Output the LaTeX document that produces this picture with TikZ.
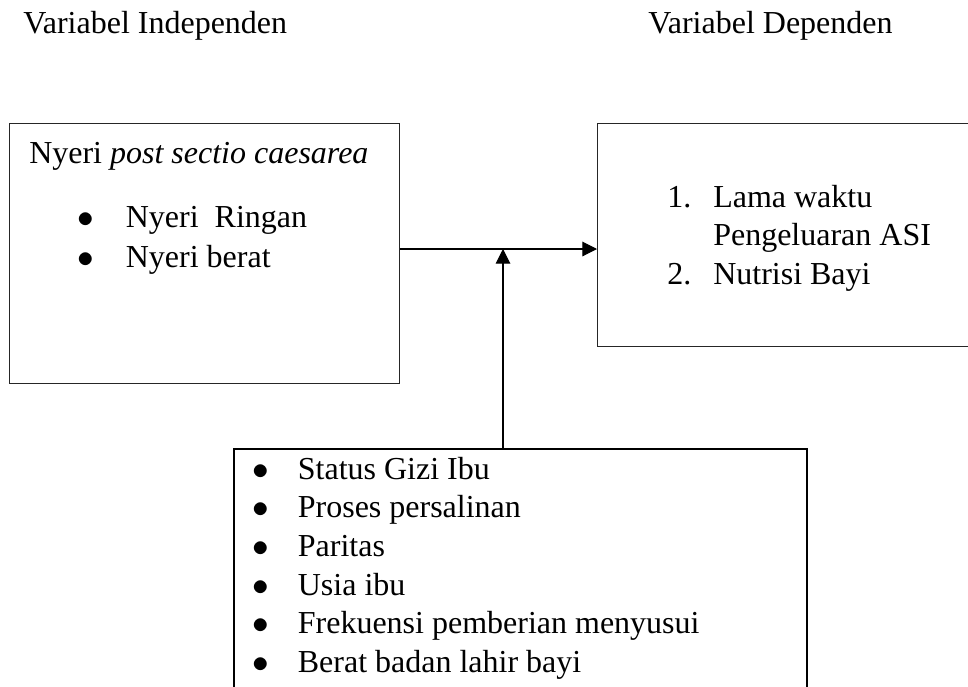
\documentclass[tikz,border=0pt]{standalone}
\usepackage{fontspec}
\setmainfont{Liberation Serif}
\usetikzlibrary{arrows.meta}

\begin{document}
\begin{tikzpicture}[x=0.75pt, y=-0.75pt,
    every node/.style={font=\fontsize{24}{29}\selectfont, inner sep=0pt},
    box/.style={rectangle, draw=black!85, line width=0.8pt, anchor=north west},
    label/.style={anchor=base west},
    arr/.style={-{Triangle[length=11pt,width=11pt]}, line width=0.8pt}]
  \useasboundingbox (0,0) rectangle (968,686);
  \clip (0,0) rectangle (968,686);

  \node (T1) [label] at (23,33) {Variabel Independen};
  \node (T2) [label] at (648,33) {Variabel Dependen};

  \node (A) [box, minimum width=292.5pt, minimum height=195pt] at (9,123) {};
  \node (A1) [label] at (29,163) {Nyeri \textit{post sectio caesarea}};
  \node (A2) [label, font=\fontsize{24}{30}\selectfont] at (77,227) {
    \begin{tabular}[t]{@{}c@{\hspace{24pt}}l@{}}
      $\bullet$ & Nyeri\ \ Ringan \\
      $\bullet$ & Nyeri berat
    \end{tabular}
  };

  \node (B) [box, minimum width=291pt, minimum height=167.25pt] at (597,123) {};
  \node (B1) [label] at (667,207) {
    \begin{tabular}[t]{@{}l@{\hspace{16.5pt}}l@{}}
      1. & Lama waktu \\
         & Pengeluaran ASI \\
      2. & Nutrisi Bayi
    \end{tabular}
  };

  \node (C) [box, draw=black, line width=1.5pt, minimum width=429.75pt, minimum height=189pt] at (233,448) {};
  \node (C1) [label] at (252,479) {
    \begin{tabular}[t]{@{}c@{\hspace{21.75pt}}l@{}}
      $\bullet$ & Status Gizi Ibu \\
      $\bullet$ & Proses persalinan \\
      $\bullet$ & Paritas \\
      $\bullet$ & Usia ibu \\
      $\bullet$ & Frekuensi pemberian menyusui \\
      $\bullet$ & Berat badan lahir bayi
    \end{tabular}
  };

  \coordinate (J) at (503,249);
  \draw[arr] (A.east |- J) -- (B.west |- J);
  \draw[arr] (C.north -| J) -- (J);
\end{tikzpicture}
\end{document}
